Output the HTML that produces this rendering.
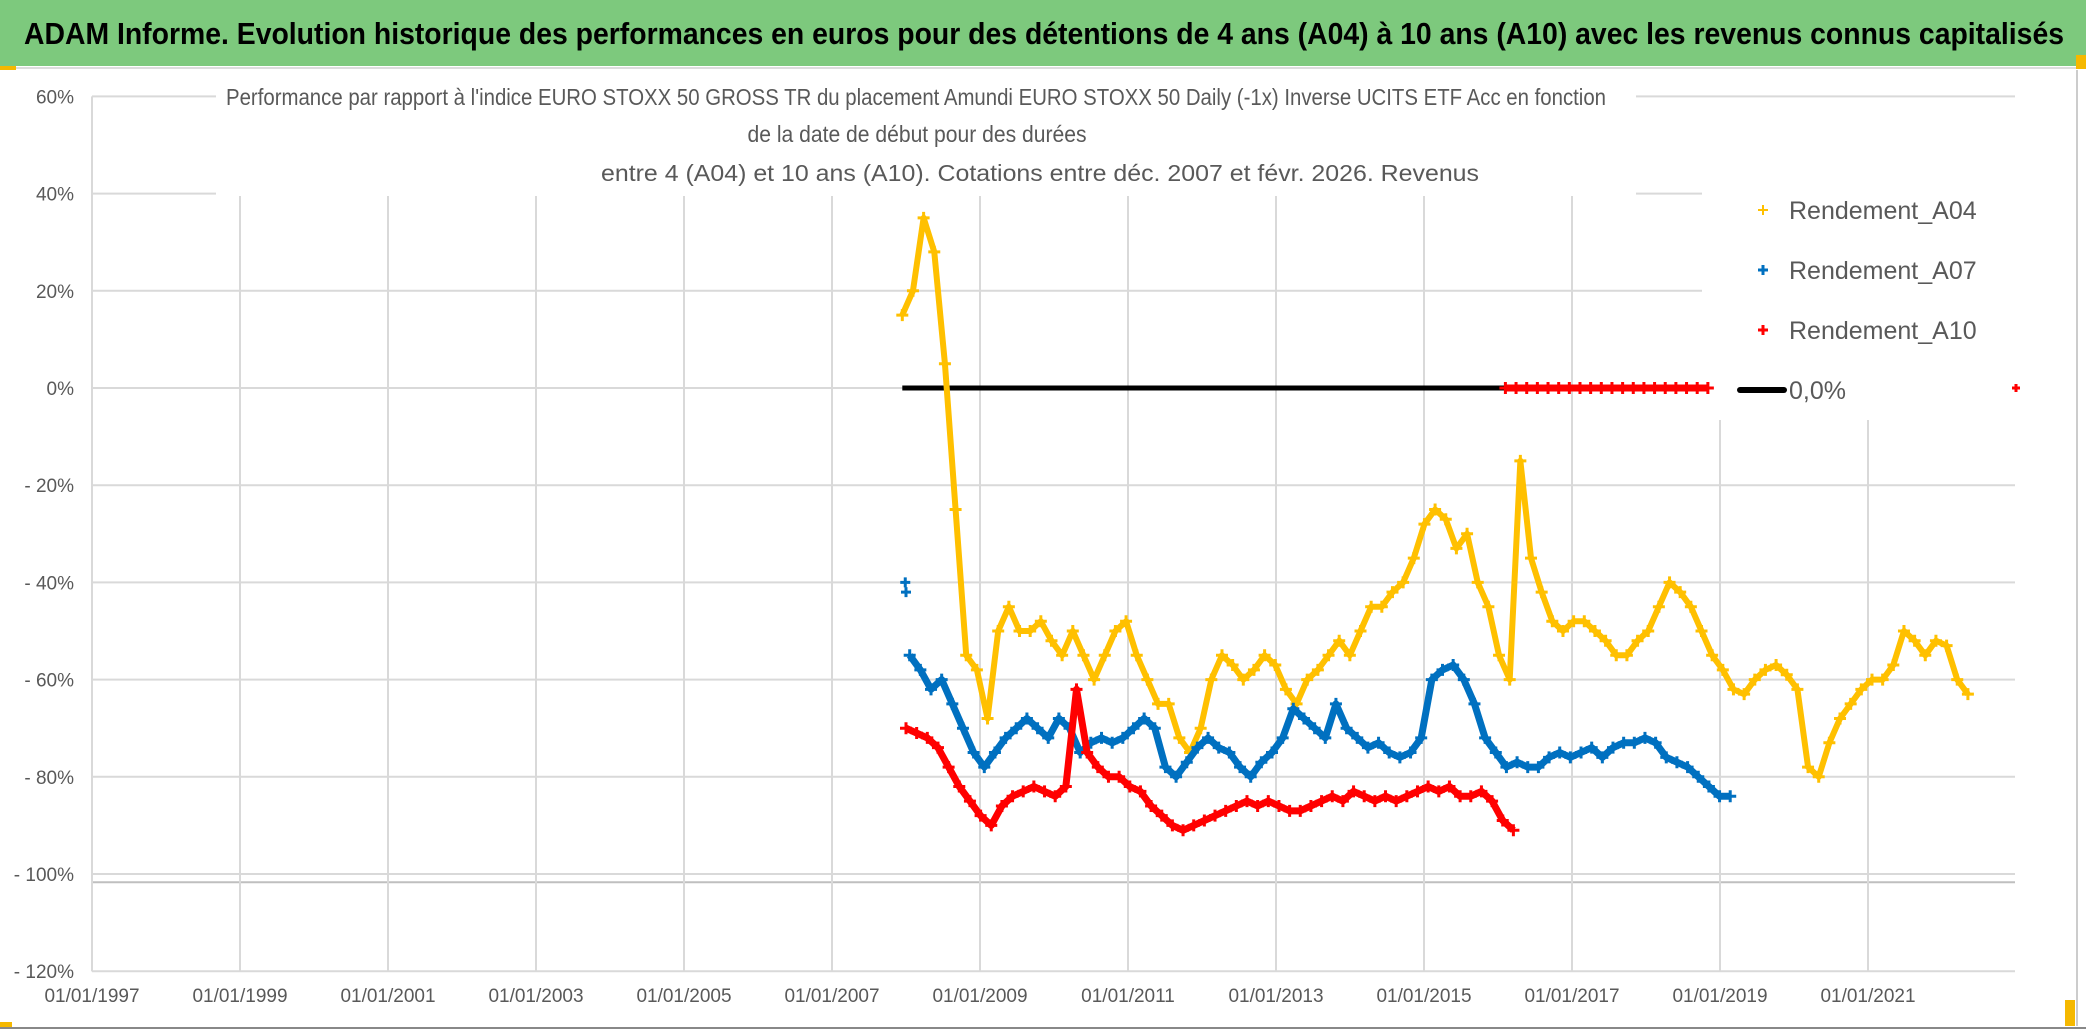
<!DOCTYPE html>
<html><head><meta charset="utf-8"><style>
html,body{margin:0;padding:0;background:#fff;}
svg{display:block;font-family:"Liberation Sans",sans-serif;}
</style></head><body>
<svg id="chart" width="2086" height="1031" viewBox="0 0 2086 1031">
<rect x="0" y="0" width="2086" height="1031" fill="#fff"/>
<rect x="0" y="0" width="2086" height="66" fill="#7dc97d"/>
<text x="24" y="44" font-size="31" font-weight="bold" fill="#000" textLength="2040" lengthAdjust="spacingAndGlyphs">ADAM Informe. Evolution historique des performances en euros pour des détentions de 4 ans (A04) à 10 ans (A10) avec les revenus connus capitalisés</text>
<line x1="0" y1="68" x2="2086" y2="68" stroke="#ddd" stroke-width="2"/>
<rect x="0" y="66" width="16" height="4" fill="#f5b800"/>
<rect x="2076" y="55" width="10" height="14" fill="#f5b800"/>
<rect x="2065" y="1000" width="10" height="26" fill="#f5b800"/>
<rect x="0" y="1022" width="12" height="6" fill="#f5b800"/>
<line x1="2077" y1="70" x2="2077" y2="1026" stroke="#ccc" stroke-width="2"/>
<line x1="0" y1="1028" x2="2086" y2="1028" stroke="#888" stroke-width="2"/>
<g id="grid"></g>
<g id="axes"></g>
<rect x="216" y="88" width="1420" height="108" fill="#fff"/>
<rect x="1702" y="182" width="313" height="238" fill="#fff"/>
<g fill="#595959" font-size="23" text-anchor="middle">
<text x="916" y="105" textLength="1380" lengthAdjust="spacingAndGlyphs">Performance par rapport à l'indice EURO STOXX 50 GROSS TR  du placement Amundi EURO STOXX 50 Daily (-1x) Inverse UCITS ETF Acc en fonction</text>
<text x="917" y="142" textLength="339" lengthAdjust="spacingAndGlyphs">de la date de début pour des durées</text>
<text x="1040" y="181" textLength="878" lengthAdjust="spacingAndGlyphs">entre 4 (A04) et 10 ans (A10). Cotations entre déc. 2007 et févr. 2026. Revenus</text>
</g>
<g id="series"></g>
<g id="legend">
<text x="1789" y="219" font-size="25" fill="#595959">Rendement_A04</text>
<text x="1789" y="279" font-size="25" fill="#595959">Rendement_A07</text>
<text x="1789" y="339" font-size="25" fill="#595959">Rendement_A10</text>
<text x="1789" y="399" font-size="25" fill="#595959">0,0%</text>
<path d="M1758 210h10M1763 205v10" stroke="#ffc000" stroke-width="2"/>
<path d="M1758 270h10M1763 265v10" stroke="#0070c0" stroke-width="3"/>
<path d="M1758 330h10M1763 325v10" stroke="#ff0000" stroke-width="3"/>
<line x1="1740" y1="390" x2="1784" y2="390" stroke="#000" stroke-width="6" stroke-linecap="round"/>
</g>
</svg>
<script>
const yTicks = [60,40,20,0,-20,-40,-60,-80,-100,-120];
const yTickLabels = ["60%","40%","20%","0%","- 20%","- 40%","- 60%","- 80%","- 100%","- 120%"];
const xTickYears = [1997,1999,2001,2003,2005,2007,2009,2011,2013,2015,2017,2019,2021];
const xTickLabels = ["01/01/1997","01/01/1999","01/01/2001","01/01/2003","01/01/2005","01/01/2007","01/01/2009","01/01/2011","01/01/2013","01/01/2015","01/01/2017","01/01/2019","01/01/2021"];
const frequencyYears = 0.144;
const a04Start = 2007.95;
const a04Values = [15,20,35,28,5,-25,-55,-58,-68,-50,-45,
-50,-50,-48,-52,-55,-50,-55,-60,-55,-50,-48,-55,-60,-65,-65,-72,-75,-70,-60,-55,-57,-60,-58,-55,-57,-62,-65,-60,-58,-55,-52,-55,-50,-45,-45,-42,-40,-35,-28,-25,-27,-33,-30,-40,-45,-55,-60,
-15,-35,-42,-48,-50,-48,-48,-50,-52,-55,-55,-52,-50,-45,-40,-42,-45,-50,-55,-58,-62,-63,-60,-58,-57,-59,-62,-78,-80,-73,-68,-65,-62,-60,-60,-57,-50,-52,-55,-52,-53,-60,-63];
const a07Start = 2008.05;
const a07Values = [-55,-58,-62,-60,-65,-70,-75,-78,-75,-72,-70,-68,-70,-72,-68,-70,-75,-73,-72,-73,-72,-70,-68,-70,-78,-80,-77,-74,-72,-74,-75,-78,-80,-77,-75,-72,-66,-68,-70,-72,-65,-70,-72,-74,-73,-75,-76,-75,-72,-60,-58,-57,-60,-65,-72,-75,-78,-77,-78,-78,-76,-75,-76,-75,-74,-76,-74,-73,-73,-72,-73,-76,-77,-78,-80,-82,-84,-84];
const a07Outliers = [[2007.99,-40],[2008.00,-42]];
const a10Start = 2008.0;
const a10Values = [-70,-71,-72,-74,-78,-82,-85,-88,-90,-86,-84,-83,-82,-83,-84,-82,-62,-75,-78,-80,-80,-82,-83,-86,-88,-90,-91,-90,-89,-88,-87,-86,-85,-86,-85,-86,-87,-87,-86,-85,-84,-85,-83,-84,-85,-84,-85,-84,-83,-82,-83,-82,-84,-84,-83,-85,-89,-91];
const a10LaterStart = 2016.1;
const a10LaterValues = [0,0,0,0,0,0,0,0,0,0,0,0,0,0,0,0,0,0,0,0];
const a10Last = [2023.0, 0];
const zeroLine = [2007.95, 2016.1, 0];
const floorLine = -101.7;

const X0=92, PXY=74, Y0=388, PXP=4.86, XR=2015;
const xs = yr => X0 + (yr-1997)*PXY;
const ys = v => Y0 - v*PXP;
const NS="http://www.w3.org/2000/svg";
function mk(tag, attrs, parent){const e=document.createElementNS(NS,tag);for(const k in attrs)e.setAttribute(k,attrs[k]);parent.appendChild(e);return e;}
const grid=document.getElementById('grid'), axes=document.getElementById('axes'), series=document.getElementById('series');
yTicks.forEach((t,i)=>{
  const l=mk('line',{x1:X0,x2:XR,y1:ys(t),y2:ys(t),stroke:'#d9d9d9','stroke-width':2},grid);
  
  
  const tx=mk('text',{x:74,y:ys(t)+7,'font-size':19,fill:'#595959','text-anchor':'end'},axes);
  tx.textContent=yTickLabels[i];
  
  
});
const fl=mk('line',{x1:X0,x2:XR,y1:ys(floorLine),y2:ys(floorLine),stroke:'#bfbfbf','stroke-width':2},grid);


xTickYears.forEach((yr,i)=>{
  const l=mk('line',{x1:xs(yr),x2:xs(yr),y1:ys(40),y2:ys(-120),stroke:'#d9d9d9','stroke-width':2},grid);
  
  
  const tx=mk('text',{x:xs(yr),y:1002,'font-size':19,fill:'#595959','text-anchor':'middle'},axes);
  tx.textContent=xTickLabels[i];
  
  
});
const ya=mk('line',{x1:X0,x2:X0,y1:ys(60),y2:ys(-120),stroke:'#d9d9d9','stroke-width':2},axes);


const zl=mk('line',{x1:xs(zeroLine[0]),x2:xs(zeroLine[1]),y1:ys(zeroLine[2]),y2:ys(zeroLine[2]),stroke:'#000','stroke-width':5},series);


function drawSeries(start, vals, color, name, lw){
  const g=mk('g',{},series);
  
  
  const pts=vals.map((v,i)=>xs(start+i*frequencyYears)+','+ys(v)).join(' ');
  mk('polyline',{points:pts,fill:'none',stroke:color,'stroke-width':lw,'stroke-linejoin':'round'},g);
  vals.forEach((v,i)=>{
    const x=xs(start+i*frequencyYears), y=ys(v);
    const p=mk('path',{d:`M${x-6} ${y}h12M${x} ${y-6}v12`,stroke:color,'stroke-width':3},g);
    
    
  });
  return g;
}
drawSeries(a04Start,a04Values,'#ffc000','series-a04',6);
const g7=drawSeries(a07Start,a07Values,'#0070c0','series-a07',7);
a07Outliers.forEach(o=>{
  const p=mk('path',{d:`M${xs(o[0])-5} ${ys(o[1])}h10M${xs(o[0])} ${ys(o[1])-5}v10`,stroke:'#0070c0','stroke-width':3},g7);
  
  
});
drawSeries(a10Start,a10Values,'#ff0000','series-a10',7);
const gl=drawSeries(a10LaterStart,a10LaterValues,'#ff0000','series-a10-late',7);
const lp=mk('path',{d:`M${xs(a10Last[0])-4} ${ys(a10Last[1])}h8M${xs(a10Last[0])} ${ys(a10Last[1])-4}v8`,stroke:'#ff0000','stroke-width':3},gl);


</script>
</body></html>
